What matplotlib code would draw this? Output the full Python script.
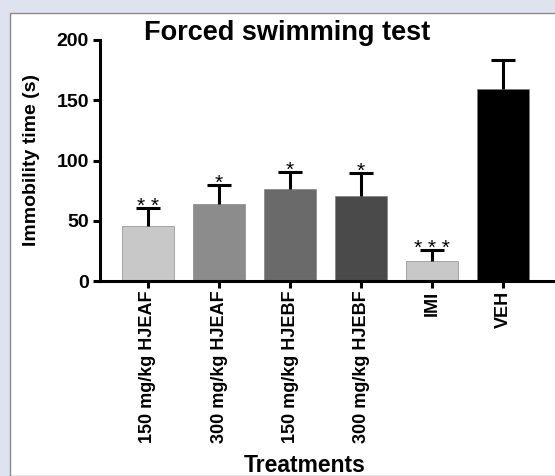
import matplotlib
matplotlib.use("Agg")
import matplotlib.pyplot as plt
from matplotlib.patches import Rectangle

# ── Data ────────────────────────────────────────────────────────────────────
treatments = ["150 mg/kg HJEAF", "300 mg/kg HJEAF", "150 mg/kg HJEBF",
              "300 mg/kg HJEBF", "IMI", "VEH"]
means = [45.5, 64, 76.5, 70.5, 16.5, 159]
errors = [15, 15.5, 14, 19, 9, 24.5]
stars = ["* *", "*", "*", "*", "* * *", ""]
bar_colors = ["#c8c8c8", "#8c8c8c", "#6a6a6a", "#4a4a4a", "#c8c8c8", "#000000"]

plt.rcParams["font.family"] = ["Liberation Sans", "DejaVu Sans"]
plt.rcParams["font.weight"] = "bold"

fig = plt.figure(figsize=(5.55, 4.76), dpi=100)
fig.patch.set_facecolor("#dfe3f0")

# white panel with grey border on left/top
panel = Rectangle((10 / 555, 0), 1, 1 - 13 / 476, transform=fig.transFigure,
                  facecolor="white", edgecolor="#8a8a8a", linewidth=1.0,
                  zorder=-5)
fig.patches.append(panel)

ax = fig.add_axes([100 / 555, 195 / 476, 455 / 555, 241 / 476])
ax.set_facecolor("none")
ax.set_zorder(2)

x = list(range(len(treatments)))
tops = [m + e for m, e in zip(means, errors)]
ax.bar(x, means, width=0.73, color=bar_colors, edgecolor="#777777",
       linewidth=0.4, zorder=2)
# upper-only error bars
ax.vlines(x, means, tops, colors="black", linewidth=2.2, zorder=3)
ax.hlines(tops, [xi - 0.165 for xi in x], [xi + 0.165 for xi in x],
          colors="black", linewidth=2.2, zorder=3)

for xi, t, s in zip(x, tops, stars):
    if s:
        ax.text(xi, t - 3, s, ha="center", va="baseline", fontsize=15,
                fontweight="normal")

ax.set_xlim(-0.676, 5.732)
ax.set_ylim(0, 200)
ax.set_yticks([0, 50, 100, 150, 200])
ax.set_xticks(x)
ax.set_xticklabels(treatments, rotation=90, fontsize=13, fontweight="bold")
for lab in ax.get_yticklabels():
    lab.set_fontsize(14)
    lab.set_fontweight("bold")

for side in ["top", "right"]:
    ax.spines[side].set_visible(False)
for side in ["left", "bottom"]:
    ax.spines[side].set_linewidth(2.2)
ax.tick_params(axis="both", direction="out", length=5, width=2.2)
ax.tick_params(axis="x", pad=2)
ax.tick_params(axis="y", pad=3)

ax.set_ylabel("Immobility time (s)", fontsize=14, fontweight="bold", labelpad=12)
fig.text(305 / 555, 1 - 466 / 476, "Treatments", ha="center", va="center",
         fontsize=16.5, fontweight="bold")
fig.text(287 / 555, 1 - 33 / 476, "Forced swimming test", ha="center",
         va="center", fontsize=19.5, fontweight="bold")

fig.savefig("out.png", dpi=100, facecolor=fig.get_facecolor())
